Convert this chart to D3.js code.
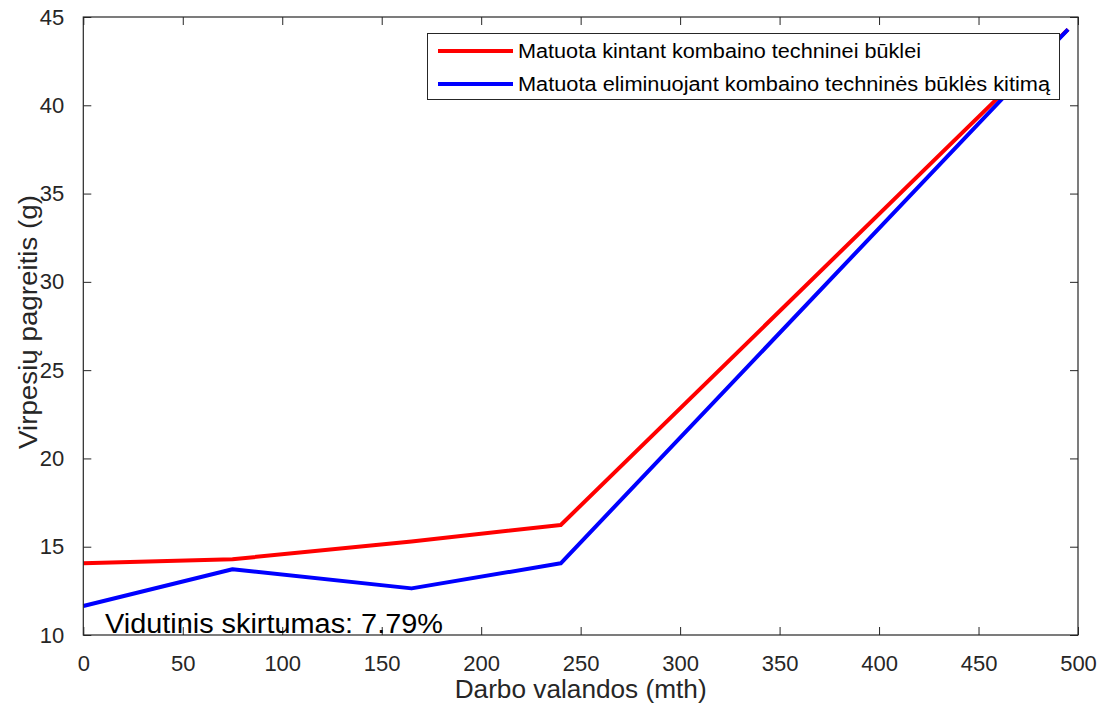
<!DOCTYPE html>
<html>
<head>
<meta charset="utf-8">
<script src="https://cdn.jsdelivr.net/npm/d3@7"></script>
<style>
  html, body { margin: 0; padding: 0; background: #fff; }
  svg { display: block; }
  text { font-family: "Liberation Sans", Arial, Helvetica, sans-serif; fill: #262626; }
</style>
</head>
<body>
<svg id="chart" width="1109" height="713"></svg>
<script>
// Operating hours (x) and vibration acceleration values (g)
const hours = [0, 75, 165, 240, 495];
const withCondition = [14.06, 14.29, 15.3, 16.23, 44.3];
const withoutCondition = [11.64, 13.72, 12.64, 14.06, 44.3];
const xTicks = [0, 50, 100, 150, 200, 250, 300, 350, 400, 450, 500];
const yTicks = [10, 15, 20, 25, 30, 35, 40, 45];
const seriesNames = [
  "Matuota kintant kombaino techninei būklei",
  "Matuota eliminuojant kombaino techninės būklės kitimą"
];
const seriesColors = ["#ff0000", "#0000ff"];
const xLabel = "Darbo valandos (mth)";
const yLabel = "Virpesių pagreitis (g)";
const note = "Vidutinis skirtumas: 7.79%";

const svg = d3.select("#chart");
const plotLeft = 83.3, plotRight = 1078, plotTop = 17, plotBottom = 635;
const axisColor = "#262626";

const x = d3.scaleLinear().domain([0, 500]).range([plotLeft, plotRight]);
const y = d3.scaleLinear().domain([10, 45]).range([plotBottom, plotTop]);

// Data lines
const line = d3.line().x(d => x(d[0])).y(d => y(d[1]));
const series = [withCondition, withoutCondition];
series.forEach((vals, i) => {
  svg.append("path")
    .datum(hours.map((h, j) => [h, vals[j]]))
    .attr("d", line)
    .attr("fill", "none")
    .attr("stroke", seriesColors[i])
    .attr("stroke-width", 4)
    .attr("stroke-linejoin", "round");
});

// Axes with inward ticks on all four sides
const tickLen = 8;
const gx = svg.append("g").attr("transform", `translate(0,${plotBottom})`)
  .call(d3.axisBottom(x).tickValues(xTicks).tickSizeInner(-tickLen).tickSizeOuter(0).tickPadding(tickLen + 12));
const gxTop = svg.append("g").attr("transform", `translate(0,${plotTop})`)
  .call(d3.axisTop(x).tickValues(xTicks).tickSizeInner(-tickLen).tickSizeOuter(0).tickFormat(""));
const gy = svg.append("g").attr("transform", `translate(${plotLeft},0)`)
  .call(d3.axisLeft(y).tickValues(yTicks).tickSizeInner(-tickLen).tickSizeOuter(0).tickPadding(tickLen + 11));
const gyRight = svg.append("g").attr("transform", `translate(${plotRight},0)`)
  .call(d3.axisRight(y).tickValues(yTicks).tickSizeInner(-tickLen).tickSizeOuter(0).tickFormat(""));

[gx, gxTop, gy, gyRight].forEach(g => {
  g.select(".domain").remove();
  g.selectAll("line").attr("stroke", axisColor).attr("stroke-width", 1);
  g.selectAll("text").attr("font-size", 22).style("font-family", "Liberation Sans, Arial, sans-serif").attr("fill", axisColor);
});

// Axes box
svg.append("rect")
  .attr("x", plotLeft).attr("y", plotTop)
  .attr("width", plotRight - plotLeft).attr("height", plotBottom - plotTop)
  .attr("fill", "none").attr("stroke", axisColor).attr("stroke-width", 1.2);

// Axis labels
svg.append("text")
  .attr("x", (plotLeft + plotRight) / 2).attr("y", 698)
  .attr("text-anchor", "middle").attr("font-size", 25)
  .attr("textLength", 252).attr("lengthAdjust", "spacingAndGlyphs")
  .text(xLabel);
svg.append("text")
  .attr("transform", `translate(37,${(plotTop + plotBottom) / 2 - 4}) rotate(-90)`)
  .attr("text-anchor", "middle").attr("font-size", 25)
  .attr("textLength", 254).attr("lengthAdjust", "spacingAndGlyphs")
  .text(yLabel);

// Annotation
svg.append("text")
  .attr("x", x(10.9)).attr("y", 633)
  .attr("font-size", 27)
  .style("fill", "#000")
  .attr("textLength", 338).attr("lengthAdjust", "spacingAndGlyphs")
  .text(note);

// Legend
const lg = svg.append("g");
lg.append("rect")
  .attr("x", 427.5).attr("y", 33.5).attr("width", 632).attr("height", 66)
  .attr("fill", "#fff").attr("stroke", axisColor).attr("stroke-width", 1);
const rowY = [51, 84];
const textLens = [403, 532];
seriesNames.forEach((name, i) => {
  lg.append("line")
    .attr("x1", 438).attr("x2", 513)
    .attr("y1", rowY[i]).attr("y2", rowY[i])
    .attr("stroke", seriesColors[i]).attr("stroke-width", 4);
  lg.append("text")
    .attr("x", 518).attr("y", rowY[i]).attr("dy", "0.35em")
    .attr("font-size", 20).style("fill", "#000")
    .attr("textLength", textLens[i]).attr("lengthAdjust", "spacingAndGlyphs")
    .text(name);
});
</script>
</body>
</html>
